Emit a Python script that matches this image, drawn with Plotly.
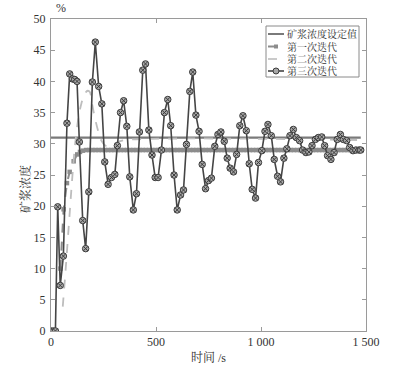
import plotly.graph_objects as go

# ---------------- data ----------------
setpoint_t = [0, 1475]
setpoint_v = [31.0, 31.0]

iter1_t = [45, 60, 76, 89, 108, 125, 138, 152, 167, 182, 197, 212, 227, 242, 257, 272, 287, 302, 317, 332,
           347, 362, 377, 392, 407, 422, 437, 452, 467, 482, 497, 512, 527, 542, 557, 572, 587, 602, 617, 632,
           647, 662, 677, 692, 707, 722, 737, 752, 767, 782, 797, 812, 827, 842, 857, 872, 887, 902, 917, 932,
           947, 962, 977, 992, 1007, 1022, 1037, 1052, 1067, 1082, 1097, 1112, 1127, 1142, 1157, 1172, 1187,
           1202, 1217, 1232, 1247, 1262, 1277, 1292, 1307, 1322, 1337, 1352, 1367, 1382, 1397, 1412, 1427,
           1442, 1457, 1472]
iter1_v = [10.0, 19.5, 23.7, 25.5, 27.2, 28.3, 28.7, 28.9] + [29.0] * 88

iter2_t = [56, 70, 85, 100, 115, 130, 145, 160, 175, 185, 195, 210, 225, 240, 255, 270, 290, 320, 350, 1475]
iter2_v = [3.9, 10.0, 17.0, 24.0, 30.0, 34.0, 36.5, 38.0, 38.5, 38.3, 36.5, 34.0, 32.0, 30.5, 29.8, 29.6,
           29.8, 30.3, 30.6, 30.6]

iter3_t = [0, 11, 21, 32, 44, 59, 76, 89, 102, 113, 124, 135, 151, 165, 180, 197, 211, 227, 242, 256, 272,
           288, 304, 316, 331, 346, 361, 375, 392, 407, 421, 437, 450, 466, 481, 496, 510, 526, 540, 556, 570,
           586, 601, 617, 631, 645, 661, 675, 690, 705, 720, 736, 750, 764, 780, 795, 809, 825, 839, 853, 869,
           884, 899, 914, 930, 944, 958, 974, 988, 1004, 1019, 1033, 1049, 1063, 1079, 1093, 1109, 1123, 1138,
           1154, 1168, 1184, 1198, 1214, 1228, 1243, 1259, 1273, 1289, 1303, 1317, 1333, 1348, 1363, 1378,
           1392, 1408, 1422, 1438, 1452, 1467, 1475]
iter3_v = [0, 0, 0, 19.9, 7.3, 12.0, 33.3, 41.2, 40.4, 40.3, 40.0, 30.3, 17.7, 13.2, 22.3, 39.9, 46.3, 39.2,
           36.4, 27.1, 23.5, 24.6, 25.1, 29.7, 35.0, 36.9, 32.8, 24.7, 19.4, 22.0, 31.9, 41.8, 42.8, 32.2, 28.2,
           24.6, 24.6, 29.0, 35.0, 37.1, 32.9, 25.0, 19.4, 21.8, 22.6, 29.9, 38.4, 41.5, 34.6, 32.0, 26.7, 22.8,
           24.1, 24.5, 29.6, 31.5, 31.9, 30.4, 27.7, 26.1, 25.5, 28.3, 32.9, 34.5, 32.1, 26.8, 22.7, 21.3, 27.0,
           28.9, 32.0, 33.1, 31.3, 27.5, 24.8, 23.9, 27.7, 29.2, 31.3, 32.3, 31.0, 30.5, 29.0, 28.6, 28.7, 29.7,
           30.7, 31.0, 31.1, 29.7, 28.1, 27.5, 28.6, 30.7, 31.5, 30.7, 30.5, 29.4, 28.9, 29.0, 29.0, 29.0]

x_ticks = [0, 500, 1000, 1500]
x_tick_labels = ["0", "500", "1 000", "1 500"]
y_ticks = [0, 5, 10, 15, 20, 25, 30, 35, 40, 45, 50]

names = ["矿浆浓度设定值", "第一次迭代", "第二次迭代", "第三次迭代"]

# ---------------- style ----------------
FONT = "Liberation Serif, Noto Serif CJK SC, Noto Sans CJK SC, serif"
TXT = "#333333"
C_SET = "#7a7a7a"
C_IT1 = "#8c8c8c"
C_IT2 = "#bdbdbd"
C_IT3 = "#454545"
C_MK3 = "#a8a8a8"

W, H = 410, 367
ML, MR, MT, MB = 51, 44, 19, 36
PW, PH = W - ML - MR, H - MT - MB


def px(x):  # pixel -> paper x
    return (x - ML) / PW


def py(y):  # pixel -> paper y
    return (H - MB - y) / PH


fig = go.Figure()
fig.add_trace(go.Scatter(x=setpoint_t, y=setpoint_v, mode="lines", name=names[0],
                         line=dict(color=C_SET, width=2.2)))
fig.add_trace(go.Scatter(x=iter1_t, y=iter1_v, mode="lines+markers", name=names[1],
                         line=dict(color=C_IT1, width=2, dash="dash"),
                         marker=dict(symbol="square", size=4.5, color=C_IT1)))
fig.add_trace(go.Scatter(x=iter2_t, y=iter2_v, mode="lines", name=names[2], line_shape="spline",
                         line=dict(color=C_IT2, width=1.8, dash="dash")))
fig.add_trace(go.Scatter(x=iter3_t, y=iter3_v, mode="lines+markers", name=names[3],
                         line=dict(color=C_IT3, width=1.6),
                         marker=dict(symbol="circle-x", size=6.5, color=C_MK3,
                                     line=dict(color="#3c3c3c", width=1))))

axis_common = dict(showline=True, linecolor="#9a9a9a", linewidth=1, mirror="ticks",
                   ticks="inside", ticklen=4, tickcolor="#9a9a9a", showgrid=False, zeroline=False,
                   tickfont=dict(family=FONT, size=12, color=TXT))

fig.update_xaxes(range=[0, 1500], tickvals=x_ticks, ticktext=x_tick_labels, **axis_common)
fig.update_yaxes(range=[0, 50], tickvals=y_ticks, ticklabelstandoff=2, **axis_common)

# ---------------- manual legend (compact, like the reference) ----------------
shapes = []
annotations = []
LX0, LX1, LY0, LY1 = 266, 359, 26, 77
shapes.append(dict(type="rect", xref="paper", yref="paper", x0=px(LX0), x1=px(LX1), y0=py(LY1), y1=py(LY0),
                   line=dict(color="#8a8a8a", width=1), fillcolor="white", layer="above"))
rows = [34, 46.5, 59, 71]
styles = [
    dict(color=C_SET, width=2, dash="solid"),
    dict(color=C_IT1, width=2, dash="dash"),
    dict(color=C_IT2, width=1.6, dash="dash"),
    dict(color=C_IT3, width=1.6, dash="solid"),
]
for i, (ry, st) in enumerate(zip(rows, styles)):
    shapes.append(dict(type="line", xref="paper", yref="paper", x0=px(268), x1=px(284),
                       y0=py(ry), y1=py(ry), line=st, layer="above"))
    annotations.append(dict(text=names[i], x=px(285), y=py(ry), xref="paper", yref="paper",
                            showarrow=False, xanchor="left", yanchor="middle",
                            font=dict(family=FONT, size=10, color=TXT)))
# legend marker symbols
shapes.append(dict(type="rect", xref="paper", yref="paper", x0=px(274), x1=px(278),
                   y0=py(rows[1] + 2), y1=py(rows[1] - 2), fillcolor=C_IT1, line=dict(width=0), layer="above"))
shapes.append(dict(type="circle", xref="paper", yref="paper", x0=px(273), x1=px(279),
                   y0=py(rows[3] + 3), y1=py(rows[3] - 3), fillcolor=C_MK3,
                   line=dict(color="#3c3c3c", width=1), layer="above"))

annotations += [
    dict(text="%", x=px(61), y=py(8), xref="paper", yref="paper", showarrow=False,
         xanchor="center", yanchor="middle", font=dict(family=FONT, size=12, color=TXT)),
    dict(text="时间 /s", x=px(208), y=py(357), xref="paper", yref="paper", showarrow=False,
         xanchor="center", yanchor="middle", font=dict(family=FONT, size=12, color=TXT)),
    dict(text="矿浆浓度", x=px(25), y=py(189), xref="paper", yref="paper", showarrow=False,
         textangle=-90, xanchor="center", yanchor="middle",
         font=dict(family=FONT, size=12, color=TXT)),
]

fig.update_layout(
    width=W, height=H,
    margin=dict(l=ML, r=MR, t=MT, b=MB),
    paper_bgcolor="white", plot_bgcolor="white",
    font=dict(family=FONT, size=12, color=TXT),
    showlegend=False,
    shapes=shapes,
    annotations=annotations,
)

fig.write_html("out.html", config={"displayModeBar": False},
               post_script="document.body.style.margin='0';")
